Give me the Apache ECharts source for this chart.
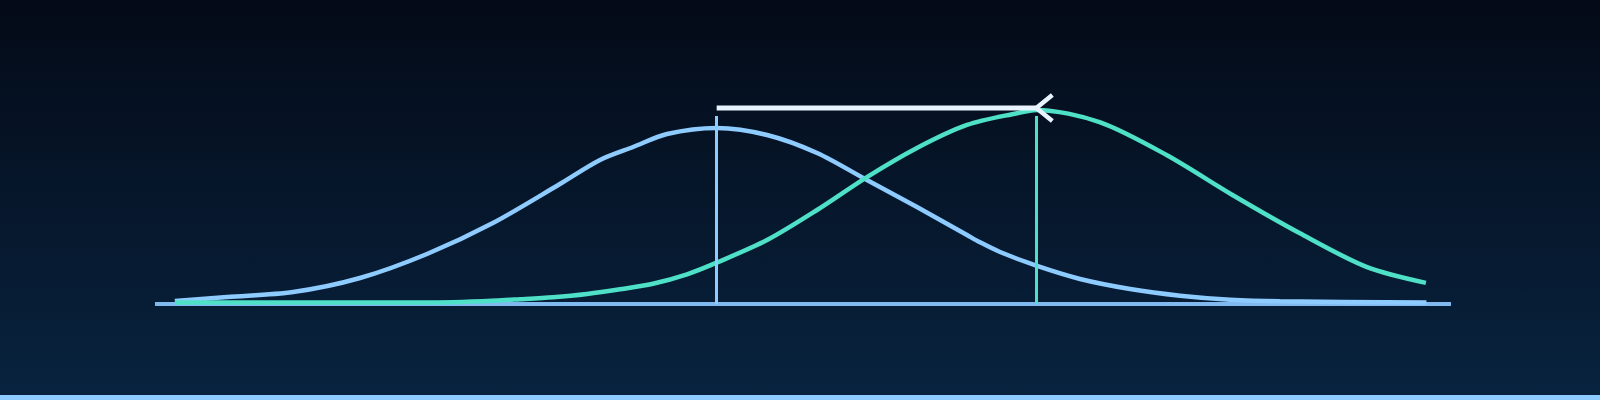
<!DOCTYPE html>
<html lang="en">
<head>
    <meta charset="UTF-8">
    <title>Two distributions</title>
    <script src="https://cdn.jsdelivr.net/npm/echarts@6.0.0/dist/echarts.min.js"></script>
    <style>
        body {
            margin: 0; /* no page margins */
            background: #08223f;
        }

        .card {
            width: 1600px;
            height: 400px;
            box-sizing: border-box;
            background: linear-gradient(to bottom, #040a17 0%, #08233f 100%); /* dark navy fade */
            border-bottom: 5px solid #8ecbff; /* light strip along the bottom */
        }

        #chart {
            width: 1600px;
            height: 395px;
        }
    </style>
</head>
<body>
    <div class="card">
        <div id="chart"></div>
    </div>

    <script>
        // first distribution (blue), x in sigma units, y = density
        const blueX = [-3.0, -2.71, -2.345, -1.975, -1.604, -1.239, -0.868, -0.646, -0.463, -0.275, 0,
                       0.279, 0.556, 0.832, 1.109, 1.386, 1.458, 1.569, 1.774, 2.012, 2.289, 2.566, 2.843, 3.12, 3.93];
        const blueY = [0.0064, 0.0149, 0.0255, 0.0553, 0.1064, 0.1723, 0.2553, 0.3064, 0.334, 0.3617, 0.3745,
                       0.3596, 0.3213, 0.2638, 0.2064, 0.1468, 0.1313, 0.1106, 0.0809, 0.0532, 0.0319, 0.0177, 0.0091, 0.0057, 0.003];

        // second distribution (green)
        const greenX = [-3.0, -2.307, -1.642, -1.272, -1.089, -0.906, -0.718, -0.535, -0.353, -0.164, 0,
                        0.279, 0.556, 0.832, 1.109, 1.386, 1.663, 1.77, 2.12, 2.491, 2.856, 3.227, 3.598, 3.927];
        const greenY = [0.003, 0.003, 0.003, 0.0064, 0.010, 0.0143, 0.0213, 0.0313, 0.0432, 0.0632, 0.0879,
                        0.136, 0.200, 0.270, 0.332, 0.381, 0.406, 0.413, 0.387, 0.317, 0.232, 0.151, 0.079, 0.045];

        // means of both groups and the height of the arrow between them
        const blueMean = 0;
        const greenMean = 1.77;
        const arrowLevel = 0.417;

        const blue = '#8ecbff';
        const green = '#4fe0c8';

        let chart = echarts.init(document.getElementById('chart'));

        let option = {
            backgroundColor: 'transparent',
            animation: false,
            grid: {
                left: 155,
                right: 149,
                top: 116,
                bottom: 91
            },
            xAxis: {
                type: 'value',
                min: -3.11,
                max: 4.066,
                axisLine: { show: true, lineStyle: { color: '#80b9f0', width: 4, cap: 'butt' } },
                axisTick: { show: false },
                axisLabel: { show: false },
                splitLine: { show: false }
            },
            yAxis: {
                type: 'value',
                min: 0,
                max: 0.4,
                show: false
            },
            series: [
                {
                    name: 'Blue',
                    type: 'line',
                    data: blueX.map((x, i) => [x, blueY[i]]),
                    smooth: 0.3,
                    clip: false,
                    symbol: 'none',
                    lineStyle: { color: blue, width: 4.5 },
                    markLine: {
                        silent: true,
                        symbol: 'none',
                        label: { show: false },
                        lineStyle: { color: blue, width: 3, type: 'solid' },
                        data: [{ xAxis: blueMean }]
                    }
                },
                {
                    name: 'Green',
                    type: 'line',
                    data: greenX.map((x, i) => [x, greenY[i]]),
                    smooth: 0.3,
                    clip: false,
                    symbol: 'none',
                    lineStyle: { color: green, width: 4.5 },
                    markLine: {
                        silent: true,
                        symbol: 'none',
                        label: { show: false },
                        lineStyle: { color: green, width: 3, type: 'solid' },
                        data: [{ xAxis: greenMean }]
                    }
                },
                {
                    // arrow from the blue mean to the green mean
                    name: 'Shift',
                    type: 'custom',
                    clip: false,
                    silent: true,
                    z: 5,
                    encode: { x: [0, 1], y: 2 },
                    data: [[blueMean, greenMean, arrowLevel]],
                    renderItem: function (params, api) {
                        const a = api.coord([api.value(0), api.value(2)]);
                        const b = api.coord([api.value(1), api.value(2)]);
                        return {
                            type: 'group',
                            children: [
                                {
                                    type: 'line',
                                    shape: { x1: a[0], y1: a[1], x2: b[0], y2: b[1] },
                                    style: { stroke: '#eaf4ff', lineWidth: 5 }
                                },
                                {
                                    type: 'polyline',
                                    shape: { points: [[b[0] + 16, b[1] - 13], [b[0], b[1]], [b[0] + 16, b[1] + 13]] },
                                    style: { stroke: '#eaf4ff', lineWidth: 4.5, fill: null }
                                }
                            ]
                        };
                    }
                }
            ]
        };
        chart.setOption(option);
    </script>
</body>
</html>
